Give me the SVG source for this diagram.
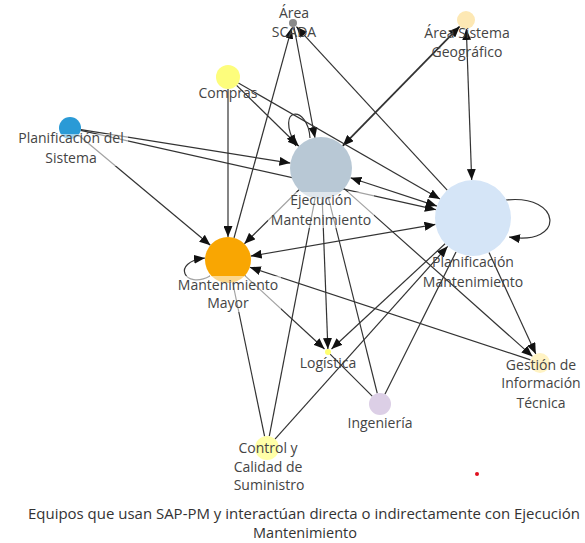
<svg xmlns="http://www.w3.org/2000/svg" width="585" height="543" viewBox="0 0 585 543">
<style>
.e{fill:none;stroke:#333;stroke-width:1.2}
.a{marker-end:url(#ar)}
.b{marker-start:url(#ar);marker-end:url(#ar)}
.s{marker-start:url(#ar)}
text{font-family:"Open Sans","Noto Sans","Liberation Sans",sans-serif;font-size:14px;fill:#444;text-anchor:middle}
.bg{fill:#fff;fill-opacity:0.55}
.cap{fill:#333;font-size:14.5px}
</style>
<defs>
<marker id="ar" markerUnits="userSpaceOnUse" markerWidth="11" markerHeight="9" refX="11" refY="4.5" orient="auto-start-reverse">
<path d="M0,0 L11,4.5 L0,9 z" fill="#111"/>
</marker>
</defs>
<rect width="585" height="543" fill="#fff"/>
<g id="connectors">
<line class="e a" x1="294" y1="27" x2="315" y2="138"/>
<line class="e a" x1="234" y1="238" x2="291.7" y2="27.8"/>
<line class="e a" x1="447.2" y1="190.1" x2="296.4" y2="26.7"/>
<line class="e b" style="stroke-width:1.8" x1="342.7" y1="145.9" x2="459.7" y2="26.4"/>
<line class="e b" x1="466.3" y1="29" x2="471.7" y2="180"/>
<line class="e a" x1="236.6" y1="85.4" x2="298.8" y2="146.3"/>
<line class="e a" x1="238.4" y1="83" x2="440" y2="199"/>
<line class="e a" x1="228" y1="89" x2="228" y2="237"/>
<line class="e a" x1="80.9" y1="129.7" x2="290.4" y2="163.1"/>
<line class="e a" x1="80.7" y1="130.4" x2="435.9" y2="209.7"/>
<line class="e a" x1="78.4" y1="135" x2="210.4" y2="245.3"/>
<path class="e a" d="M310 138 C308 104 274 106 296 146"/>
<line class="e b" x1="350.5" y1="177.7" x2="436.9" y2="206.1"/>
<line class="e a" x1="299" y1="189.8" x2="244.4" y2="243.8"/>
<line class="e" x1="315.1" y1="198.4" x2="269.3" y2="436.2"/>
<line class="e a" x1="322.2" y1="199" x2="327.9" y2="349"/>
<line class="e" x1="328.5" y1="198.1" x2="377.3" y2="393.3"/>
<line class="e a" x1="344.2" y1="188.6" x2="532.5" y2="356.4"/>
<path class="e a" d="M506 200 C562 194 566 246 509 237"/>
<line class="e b" x1="250.7" y1="256.1" x2="435.5" y2="224.4"/>
<path class="e a" d="M210 276 C185 290 170 262 205 258"/>
<line class="e a" x1="530.5" y1="359.9" x2="249.8" y2="267.2"/>
<line class="e a" x1="244.9" y1="275.6" x2="324.5" y2="349"/>
<line class="e" x1="232.7" y1="282.5" x2="264.6" y2="436.3"/>
<line class="e a" x1="445.1" y1="243.8" x2="331.5" y2="349"/>
<line class="e a" x1="275" y1="439.1" x2="447.7" y2="246.3"/>
<line class="e" x1="384.9" y1="394.2" x2="456" y2="252"/>
<line class="e a" x1="489" y1="252.5" x2="535.8" y2="353.9"/>
<line class="e" x1="330.1" y1="354.1" x2="372.2" y2="396.2"/>
</g>
<g id="n-scada">
<circle cx="293" cy="23" r="4" fill="#8a8a8a"/>
<text x="294" y="18">Área</text>
<text x="294" y="37">SCADA</text>
</g>
<g id="n-asg">
<circle cx="466" cy="20" r="9" fill="#fde8b4"/>
<text x="467" y="38">Área Sistema</text>
<text x="467" y="57">Geográfico</text>
</g>
<g id="n-compras">
<circle cx="228" cy="77" r="12" fill="#fdfd7c"/>
<text x="228" y="98">Compras</text>
</g>
<g id="n-pds">
<circle cx="70" cy="128" r="11" fill="#2a9ad6"/>
<rect class="bg" x="14" y="134" width="114" height="32"/>
<text x="71" y="143">Planificación del</text>
<text x="71" y="163">Sistema</text>
</g>
<g id="n-em">
<circle cx="321" cy="168" r="31" fill="#b8c8d5"/>
<rect class="bg" x="268" y="192" width="106" height="36"/>
<text x="321" y="205">Ejecución</text>
<text x="321" y="225">Mantenimiento</text>
</g>
<g id="n-pm">
<circle cx="473" cy="218" r="38" fill="#d5e5f7"/>
<text x="473" y="267">Planificación</text>
<text x="473" y="287">Mantenimiento</text>
</g>
<g id="n-mm">
<circle cx="228" cy="260" r="23" fill="#f9a602"/>
<rect class="bg" x="175" y="276" width="106" height="36"/>
<text x="228" y="290">Mantenimiento</text>
<text x="228" y="308">Mayor</text>
</g>
<g id="n-log">
<circle cx="328" cy="352" r="3" fill="#ffff70"/>
<text x="328" y="368">Logística</text>
</g>
<g id="n-ing">
<circle cx="380" cy="404" r="11" fill="#dccfe6"/>
<text x="380" y="428">Ingeniería</text>
</g>
<g id="n-ccs">
<circle cx="267" cy="448" r="12" fill="#ffffa8"/>
<text x="268" y="453">Control y</text>
<text x="268" y="472">Calidad de</text>
<text x="269" y="490">Suministro</text>
</g>
<g id="n-git">
<circle cx="540" cy="363" r="10" fill="#fff3c4"/>
<text x="541" y="370">Gestión de</text>
<text x="541" y="388">Información</text>
<text x="541" y="408">Técnica</text>
</g>
<circle cx="477" cy="474" r="2" fill="#e0101e"/>
<g id="caption">
<text class="cap" x="304" y="519" textLength="552" lengthAdjust="spacingAndGlyphs">Equipos que usan SAP-PM y interactúan directa o indirectamente con Ejecución</text>
<text class="cap" x="305" y="538">Mantenimiento</text>
</g>
</svg>
